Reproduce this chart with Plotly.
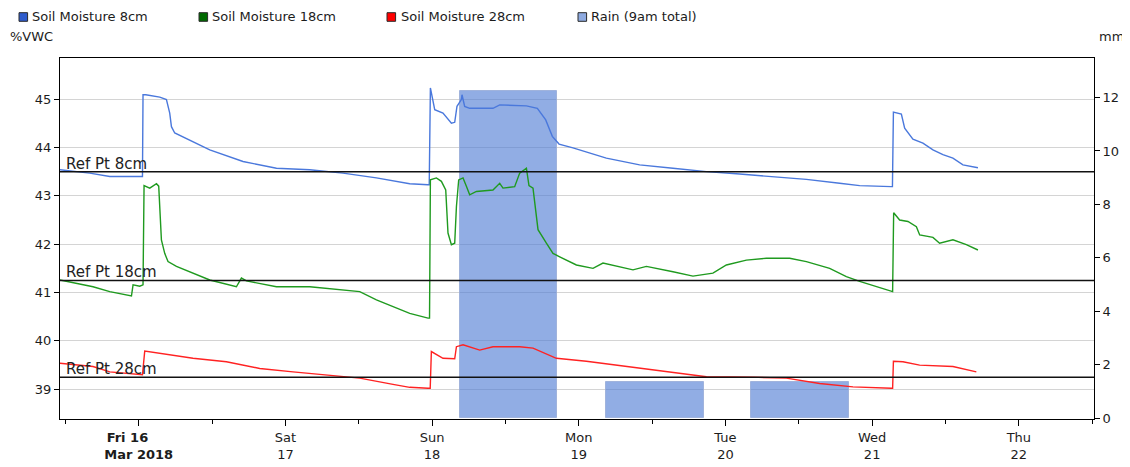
import plotly.graph_objects as go
import pandas as pd

BASE = pd.Timestamp("2018-03-16 00:00")

# ---- data (hours after 2018-03-16 00:00) ----
hours_8cm = [-12.92, -8.02, -4.74, 0.61, 0.70, 1.15, 3.44, 4.53, 5.07, 5.35, 5.89, 8.88, 11.62, 17.06,
             22.53, 27.98, 33.42, 38.89, 44.34, 47.33, 47.53, 47.72, 48.43, 49.78, 51.16, 51.70, 52.07,
             52.79, 52.89, 53.33, 54.15, 57.96, 59.06, 63.43, 65.22, 66.59, 67.67, 68.77, 71.05, 76.51,
             81.96, 87.41, 92.88, 98.32, 103.77, 109.24, 114.68, 117.96, 123.14, 123.32, 123.48, 124.78,
             125.32, 126.67, 128.31, 129.95, 131.58, 133.22, 134.86, 137.31]
vwc_8cm = [43.54, 43.47, 43.40, 43.40, 45.09, 45.09, 45.04, 44.99, 44.71, 44.43, 44.30, 44.12, 43.95, 43.71,
           43.57, 43.54, 43.47, 43.37, 43.25, 43.23, 43.23, 45.23, 44.78, 44.71, 44.50, 44.52, 44.85,
           44.99, 45.09, 44.85, 44.81, 44.81, 44.88, 44.86, 44.81, 44.57, 44.23, 44.07, 43.99, 43.78,
           43.64, 43.57, 43.50, 43.45, 43.40, 43.34, 43.26, 43.21, 43.19, 43.19, 44.73, 44.69,
           44.40, 44.17, 44.09, 43.95, 43.85, 43.78, 43.64, 43.58]

hours_18cm = [-12.92, -7.48, -4.74, -1.19, -0.93, 0.16, 0.70, 0.87, 1.80, 2.90, 3.27, 3.71, 4.25, 4.79,
              6.17, 8.88, 11.62, 15.98, 16.80, 17.62, 22.53, 27.98, 33.42, 36.16, 38.89, 41.60, 44.34,
              47.33, 47.58, 47.72, 48.70, 49.52, 50.23, 50.60, 51.16, 51.70, 51.98, 52.35, 53.06, 53.61,
              54.15, 55.25, 57.96, 59.06, 59.60, 61.51, 62.33, 63.43, 63.85, 64.51, 65.33, 66.70, 67.78,
              68.88, 71.61, 74.33, 75.96, 80.87, 83.06, 87.41, 90.68, 93.95, 96.15, 99.42, 102.69,
              106.51, 109.24, 113.05, 115.78, 117.96, 123.14, 123.35, 123.52, 124.50, 125.86, 127.24,
              127.78, 129.95, 131.04, 133.22, 135.41, 137.31]
vwc_18cm = [41.26, 41.12, 41.02, 40.93, 41.16, 41.13, 41.16, 43.21, 43.16, 43.25, 43.20, 42.09, 41.81, 41.64,
            41.54, 41.40, 41.26, 41.12, 41.30, 41.24, 41.12, 41.12, 41.05, 41.02, 40.85, 40.71, 40.57,
            40.47, 40.47, 43.33, 43.37, 43.30, 43.12, 42.23, 41.99, 42.02, 42.78, 43.33, 43.37, 43.20,
            43.02, 43.09, 43.12, 43.26, 43.16, 43.19, 43.47, 43.57, 43.21, 43.16, 42.30, 42.02, 41.81,
            41.74, 41.57, 41.50, 41.61, 41.47, 41.54, 41.43, 41.34, 41.40, 41.57, 41.67, 41.71,
            41.71, 41.64, 41.50, 41.33, 41.23, 41.02, 41.02, 42.65, 42.50, 42.47, 42.36,
            42.19, 42.14, 42.02, 42.09, 41.99, 41.88]

hours_28cm = [-12.92, -7.48, -4.74, 0.61, 0.98, 3.44, 8.88, 14.35, 19.80, 25.24, 30.71, 36.16, 41.60,
              44.34, 47.33, 47.69, 47.88, 49.78, 51.70, 51.98, 53.06, 55.79, 57.96, 62.33, 64.51, 68.34,
              73.24, 78.69, 84.14, 89.60, 92.88, 100.50, 105.96, 111.41, 116.86, 123.14, 123.35, 123.48,
              125.04, 127.77, 133.22, 137.05]
vwc_28cm = [39.54, 39.47, 39.36, 39.30, 39.79, 39.74, 39.64, 39.57, 39.43, 39.36, 39.30, 39.23, 39.10,
            39.04, 39.02, 39.02, 39.78, 39.64, 39.63, 39.88, 39.92, 39.81, 39.88, 39.88, 39.85, 39.64,
            39.58, 39.49, 39.40, 39.31, 39.26, 39.25, 39.23, 39.12, 39.05, 39.02, 39.02, 39.58,
            39.57, 39.50, 39.47, 39.36]

rain_hours = [60.5, 84.5, 108.2]
rain_mm = [12.25, 1.35, 1.35]
rain_bar_hours = 16.0

ref_values = [43.5, 41.25, 39.25]
ref_labels = ["Ref Pt 8cm", "Ref Pt 18cm", "Ref Pt 28cm"]

day_ticks = ["2018-03-16", "2018-03-17", "2018-03-18", "2018-03-19", "2018-03-20", "2018-03-21", "2018-03-22"]
day_labels = ["<b>Fri 16&nbsp;&nbsp;&nbsp;&nbsp;&nbsp;</b><br><b>Mar 2018</b>", "Sat<br>17", "Sun<br>18",
              "Mon<br>19", "Tue<br>20", "Wed<br>21", "Thu<br>22"]

series_names = ["Soil Moisture 8cm", "Soil Moisture 18cm", "Soil Moisture 28cm", "Rain (9am total)"]
line_colors = ["#4a78dc", "#1f9a1f", "#ff2222"]
legend_colors = ["#2f5ccc", "#006a00", "#ff0000", "#8eaae0"]

FONT = "DejaVu Sans"
TXT = "#1c1c1c"

# plot-area geometry in figure pixels (used to place the hand-built legend)
FIG_W, FIG_H = 1122, 459
M_L, M_R, M_T, M_B = 52, 36, 50, 48
PW, PH = FIG_W - M_L - M_R, FIG_H - M_T - M_B
legend_swatch_px = [11, 191, 379, 570]   # swatch left edges (figure px)
legend_text_px = [22, 202, 391, 581]     # text left edges (figure px)
legend_row_px = 9                         # legend row centre (figure px from top)


def to_time(hours):
    return [BASE + pd.Timedelta(hours=h) for h in hours]


def px_x(p):
    return (p - M_L) / PW


def px_y(p):
    return 1 + (M_T - p) / PH


fig = go.Figure()

# rain bars on the primary (right, mm) axis -> drawn beneath the soil moisture lines
fig.add_trace(go.Bar(
    x=to_time(rain_hours), y=rain_mm, width=rain_bar_hours * 3600 * 1000, name=series_names[3],
    marker=dict(color="rgba(80,125,212,0.63)", line=dict(width=1, color="rgba(150,170,215,0.8)")),
    yaxis="y", showlegend=False, hoverinfo="x+y"))

for hrs, vals, col, name in [(hours_8cm, vwc_8cm, line_colors[0], series_names[0]),
                             (hours_18cm, vwc_18cm, line_colors[1], series_names[1]),
                             (hours_28cm, vwc_28cm, line_colors[2], series_names[2])]:
    fig.add_trace(go.Scatter(x=to_time(hrs), y=vals, mode="lines", name=name,
                             line=dict(color=col, width=1.4), yaxis="y2", showlegend=False))

# legend: square swatches + text
half = 4.3
for name, col, sx, tx in zip(series_names, legend_colors, legend_swatch_px, legend_text_px):
    fig.add_shape(type="rect", xref="paper", yref="paper",
                  x0=px_x(sx), x1=px_x(sx + 2 * half),
                  y0=px_y(legend_row_px + half), y1=px_y(legend_row_px - half),
                  fillcolor=col, line=dict(color="#2a2a2a", width=1), layer="above")
    fig.add_annotation(xref="paper", yref="paper", x=px_x(tx), y=px_y(legend_row_px), text=name,
                       showarrow=False, xanchor="left", yanchor="middle",
                       font=dict(family=FONT, size=13, color=TXT))

for val, lab in zip(ref_values, ref_labels):
    fig.add_shape(type="line", xref="paper", x0=0, x1=1, yref="y2", y0=val, y1=val,
                  line=dict(color="#111111", width=1.5), layer="above")
    fig.add_annotation(xref="paper", x=0.004, yref="y2", y=val, text=lab, showarrow=False,
                       xanchor="left", yanchor="bottom", yshift=-3,
                       font=dict(family=FONT, size=15, color="#222222"))

fig.add_annotation(xref="paper", yref="paper", x=px_x(0), y=px_y(29), text="%VWC", showarrow=False,
                   xanchor="left", yanchor="middle", font=dict(family=FONT, size=13, color=TXT))
fig.add_annotation(xref="paper", yref="paper", x=px_x(1089), y=px_y(29), text="mm", showarrow=False,
                   xanchor="left", yanchor="middle", font=dict(family=FONT, size=13, color=TXT))

axis_common = dict(showline=True, linecolor="#000000", linewidth=1, ticks="outside",
                   tickcolor="#000000", tickfont=dict(family=FONT, size=13, color=TXT),
                   automargin=False)

# page body adds an 8px offset, so the figure is sized/margined to compensate
fig.update_layout(
    width=FIG_W, height=FIG_H,
    margin=dict(l=M_L, r=M_R, t=M_T, b=M_B, autoexpand=False),
    paper_bgcolor="white", plot_bgcolor="white",
    bargap=0,
    font=dict(family=FONT, size=13, color=TXT),
    xaxis=dict(type="date", range=["2018-03-15 11:07", "2018-03-22 12:18"],
               tickvals=day_ticks, ticktext=day_labels, ticklen=6, showgrid=False,
               mirror=True,
               minor=dict(dtick=12 * 3600 * 1000, tick0="2018-03-16 12:00", ticks="outside",
                          ticklen=4, tickcolor="#000000", showgrid=False),
               **axis_common),
    yaxis=dict(side="right", range=[-0.03, 13.48], tickvals=[0, 2, 4, 6, 8, 10, 12],
               showgrid=False, zeroline=False, ticklen=5, **axis_common),
    yaxis2=dict(side="left", overlaying="y", range=[38.385, 45.85], dtick=1, tick0=39,
                showgrid=True, gridcolor="#d4d4d4", gridwidth=1, zeroline=False, ticklen=5,
                **axis_common),
    showlegend=False,
)

fig.write_html("out.html")
